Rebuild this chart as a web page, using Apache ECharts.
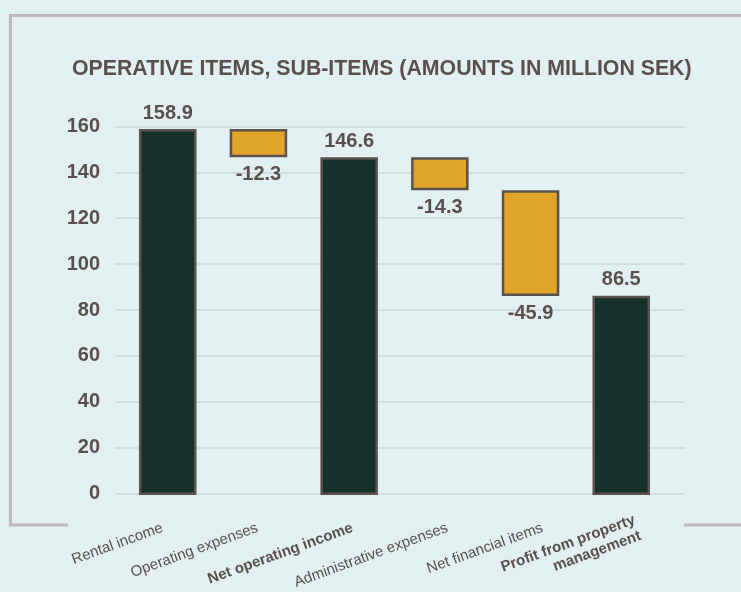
<!DOCTYPE html>
<html>
<head>
<meta charset="utf-8">
<script src="https://cdn.jsdelivr.net/npm/echarts@6/dist/echarts.min.js"></script>
<style>html,body{margin:0;padding:0;background:#e2f0f1;}#c{width:741px;height:592px;}</style>
</head>
<body>
<div id="c"></div>
<script>
const titleText = 'OPERATIVE ITEMS, SUB-ITEMS (AMOUNTS IN MILLION SEK)';
const categories = ['Rental income', 'Operating expenses', 'Net operating income', 'Administrative expenses', 'Net financial items', 'Profit from property\nmanagement'];
const values = [158.9, -12.3, 146.6, -14.3, -45.9, 86.5];
const isTotal = [true, false, true, false, false, true];
const boldLabel = [false, false, true, false, false, true];
const yMin = 0, yMax = 160, yStep = 20;

const bg = '#e2f0f1';
const textColor = '#5a4f4c';
const font = "'Liberation Sans', Arial, sans-serif";

// waterfall decomposition
const base = [], totalBars = [], deltaBars = [];
let run = 0;
values.forEach((v, i) => {
  if (isTotal[i]) { base.push(0); totalBars.push(v); deltaBars.push('-'); run = v; }
  else { run += v; base.push(run); totalBars.push('-'); deltaBars.push(-v); }
});

const chart = echarts.init(document.getElementById('c'));
const barStyle = (color) => ({ color: color, borderColor: '#5b5150', borderWidth: 2.5 });
const labelStyle = { fontFamily: font, fontWeight: 'bold', fontSize: 20, color: textColor };

chart.setOption({
  backgroundColor: bg,
  animation: false,
  title: {
    text: titleText, left: 67, top: 54,
    textStyle: { fontFamily: font, fontWeight: 'bold', fontSize: 21.3, color: textColor }
  },
  graphic: [
    { type: 'rect', z: -10, silent: true, shape: { x: 10.5, y: 15.5, width: 800, height: 509.5 },
      style: { fill: null, stroke: '#bdb8b9', lineWidth: 3 } },
    { type: 'rect', z: -9, silent: true, shape: { x: 68, y: 518, width: 616, height: 14 },
      style: { fill: bg } }
  ],
  grid: [
    { left: 122.4, right: 74.4, top: 126.5, bottom: 97 },
    { left: 115, right: 56, top: 126.5, bottom: 97 }
  ],
  xAxis: [
    { type: 'category', gridIndex: 0, data: categories, show: false },
    { type: 'category', gridIndex: 1, data: categories,
      axisLine: { show: false }, axisTick: { show: false },
      axisLabel: {
        interval: 0, rotate: 20, margin: 34,
        formatter: (v, i) => v.split('\n').map(s => (boldLabel[i] ? '{b|' : '{n|') + s + '}').join('\n'),
        rich: {
          n: { fontFamily: font, fontSize: 15, color: textColor, lineHeight: 17 },
          b: { fontFamily: font, fontSize: 15, fontWeight: 'bold', color: textColor, lineHeight: 17 }
        }
      }
    }
  ],
  yAxis: [
    { type: 'value', gridIndex: 0, min: yMin, max: yMax, interval: yStep, show: false },
    { type: 'value', gridIndex: 1, min: yMin, max: yMax, interval: yStep,
      axisLine: { show: false }, axisTick: { show: false },
      axisLabel: { fontFamily: font, fontWeight: 'bold', fontSize: 20, color: textColor, margin: 15 },
      splitLine: { lineStyle: { color: '#cbd9da', width: 1.5 } }
    }
  ],
  series: [
    { type: 'bar', xAxisIndex: 0, yAxisIndex: 0, stack: 'w', data: base, barWidth: 57.5,
      itemStyle: { color: 'transparent' }, silent: true },
    { type: 'bar', xAxisIndex: 0, yAxisIndex: 0, stack: 'w', data: totalBars, barWidth: 57.5,
      itemStyle: barStyle('#15312b'),
      label: Object.assign({ show: true, position: 'top', distance: 6,
        formatter: p => values[p.dataIndex].toFixed(1) }, labelStyle) },
    { type: 'bar', xAxisIndex: 0, yAxisIndex: 0, stack: 'w', data: deltaBars, barWidth: 57.5,
      itemStyle: barStyle('#e0a428'),
      label: Object.assign({ show: true, position: 'bottom', distance: 7,
        formatter: p => values[p.dataIndex].toFixed(1) }, labelStyle) },
    { type: 'bar', xAxisIndex: 1, yAxisIndex: 1, data: [] }
  ]
});
</script>
</body>
</html>
